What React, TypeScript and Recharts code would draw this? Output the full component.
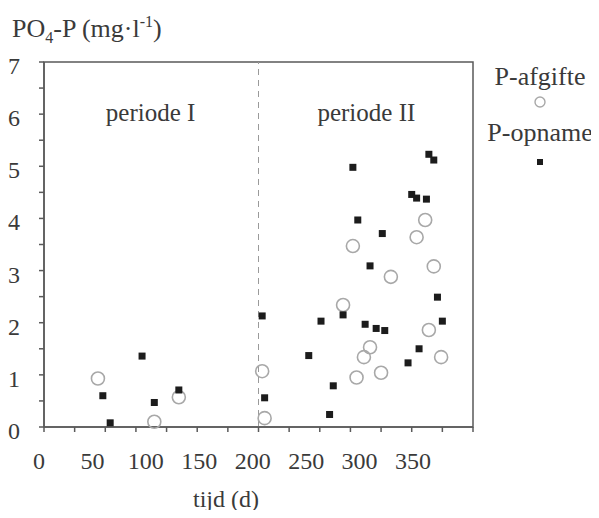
import { ScatterChart, Scatter, XAxis, YAxis, ReferenceLine, ReferenceArea, ReferenceDot } from 'recharts'

// P-afgifte (open circles): [tijd in d, PO4-P in mg/l]
const afgifteX = [44, 90, 110, 178, 180, 244, 266, 261, 255, 275, 314, 324, 311, 304, 252, 318, 283]
const afgifteY = [0.93, 0.1, 0.57, 1.07, 0.17, 2.34, 1.53, 1.34, 0.95, 1.04, 1.86, 1.34, 3.97, 3.64, 3.47, 3.08, 2.88]

// P-opname (filled squares)
const opnameX = [48, 54, 80, 90, 110, 178, 180, 216, 226, 236, 233, 244, 262, 271, 278, 297, 306, 321, 325, 252, 314, 318, 300, 304, 312, 256, 276, 266]
const opnameY = [0.6, 0.08, 1.36, 0.47, 0.71, 2.13, 0.56, 1.37, 2.03, 0.79, 0.24, 2.15, 1.97, 1.89, 1.85, 1.23, 1.5, 2.49, 2.03, 4.98, 5.23, 5.12, 4.46, 4.39, 4.37, 3.97, 3.71, 3.09]

const xTicks = [0, 25, 50, 75, 100, 125, 150, 175, 200, 225, 250, 275, 300, 325, 350]
const yTicks = [0, 0.5, 1, 1.5, 2, 2.5, 3, 3.5, 4, 4.5, 5, 5.5, 6, 6.5, 7]
const periodeSplit = 175

const afgifte = afgifteX.map((x, i) => ({ x, y: afgifteY[i] }))
const opname = opnameX.map((x, i) => ({ x, y: opnameY[i] }))

const FONT = '"Liberation Serif", "Times New Roman", serif'
const INK = '#3a3a3a'
const AXIS = '#5a5a5a'

// the printed x labels sit squeezed to the left of their tick marks (0 at 39px, 350 at 413px)
const LABEL_X0 = 39
const LABEL_PX_PER_DAY = 374 / 350

function XTick({ y, payload }: any) {
  if (payload.value % 50 !== 0) return null
  const lx = LABEL_X0 + payload.value * LABEL_PX_PER_DAY
  return (
    <text x={lx} y={y + 35} textAnchor="middle" fontFamily={FONT} fontSize={24} fill={INK}>
      {payload.value}
    </text>
  )
}

function YTick({ x, y, payload }: any) {
  if (payload.value % 1 !== 0) return null
  return (
    <text x={x - 23} y={y + 12} textAnchor="middle" fontFamily={FONT} fontSize={24} fill={INK}>
      {payload.value}
    </text>
  )
}

function OpenCircle({ cx, cy }: any) {
  return <circle cx={cx} cy={cy} r={6.5} fill="none" stroke="#a8a8a8" strokeWidth={1.6} />
}

function Square({ cx, cy }: any) {
  return <rect x={cx - 3.5} y={cy - 3.5} width={7} height={7} fill="#1c1c1c" />
}

function LegendBox() {
  return (
    <svg width={120} height={120} style={{ position: 'absolute', left: 480, top: 52 }}>
      <text x={60} y={33} textAnchor="middle" fontFamily={FONT} fontSize={26} fill={INK}>P-afgifte</text>
      <circle cx={60} cy={50} r={5} fill="none" stroke="#a8a8a8" strokeWidth={1.4} />
      <text x={60} y={89} textAnchor="middle" fontFamily={FONT} fontSize={26} fill={INK}>P-opname</text>
      <rect x={57} y={107} width={6} height={6} fill="#1c1c1c" />
    </svg>
  )
}

export default function App() {
  return (
    <div style={{ position: 'relative', width: 599, height: 518, margin: -8, background: '#fff', fontFamily: FONT }}>
      <ScatterChart width={599} height={518} margin={{ top: 62, right: 126, bottom: 0, left: 0 }}>
        <XAxis
          type="number"
          dataKey="x"
          domain={[0, 350]}
          ticks={xTicks}
          height={91}
          tickSize={5}
          tick={<XTick />}
          stroke={AXIS}
          strokeWidth={1.5}
          interval={0}
        />
        <YAxis
          type="number"
          dataKey="y"
          domain={[0, 7]}
          ticks={yTicks}
          width={44}
          tickSize={5}
          tick={<YTick />}
          stroke={AXIS}
          strokeWidth={1.5}
          interval={0}
        />
        <ReferenceArea x1={0} x2={350} y1={0} y2={7} fill="none" stroke={AXIS} strokeWidth={1.5} />
        <ReferenceLine x={periodeSplit} stroke="#9a9a9a" strokeDasharray="6 5" strokeWidth={1} />
        <ReferenceDot
          x={87}
          y={6.04}
          r={0}
          label={{ value: 'periode I', fontFamily: FONT, fontSize: 25, fill: INK, position: 'center' }}
        />
        <ReferenceDot
          x={263}
          y={6.04}
          r={0}
          label={{ value: 'periode II', fontFamily: FONT, fontSize: 25, fill: INK, position: 'center' }}
        />
        <Scatter name="P-afgifte" data={afgifte} shape={<OpenCircle />} isAnimationActive={false} />
        <Scatter name="P-opname" data={opname} shape={<Square />} isAnimationActive={false} />
      </ScatterChart>
      <div style={{ position: 'absolute', left: 12, top: 8, fontSize: 26, color: INK, whiteSpace: 'nowrap', lineHeight: '28px' }}>
        PO<sub style={{ fontSize: 16 }}>4</sub>-P (mg·l<sup style={{ fontSize: 16 }}>-1</sup>)
      </div>
      <div style={{ position: 'absolute', left: 0, top: 486, width: 452, textAlign: 'center', fontSize: 24, lineHeight: '26px', color: INK }}>
        tijd (d)
      </div>
      <LegendBox />
    </div>
  )
}
